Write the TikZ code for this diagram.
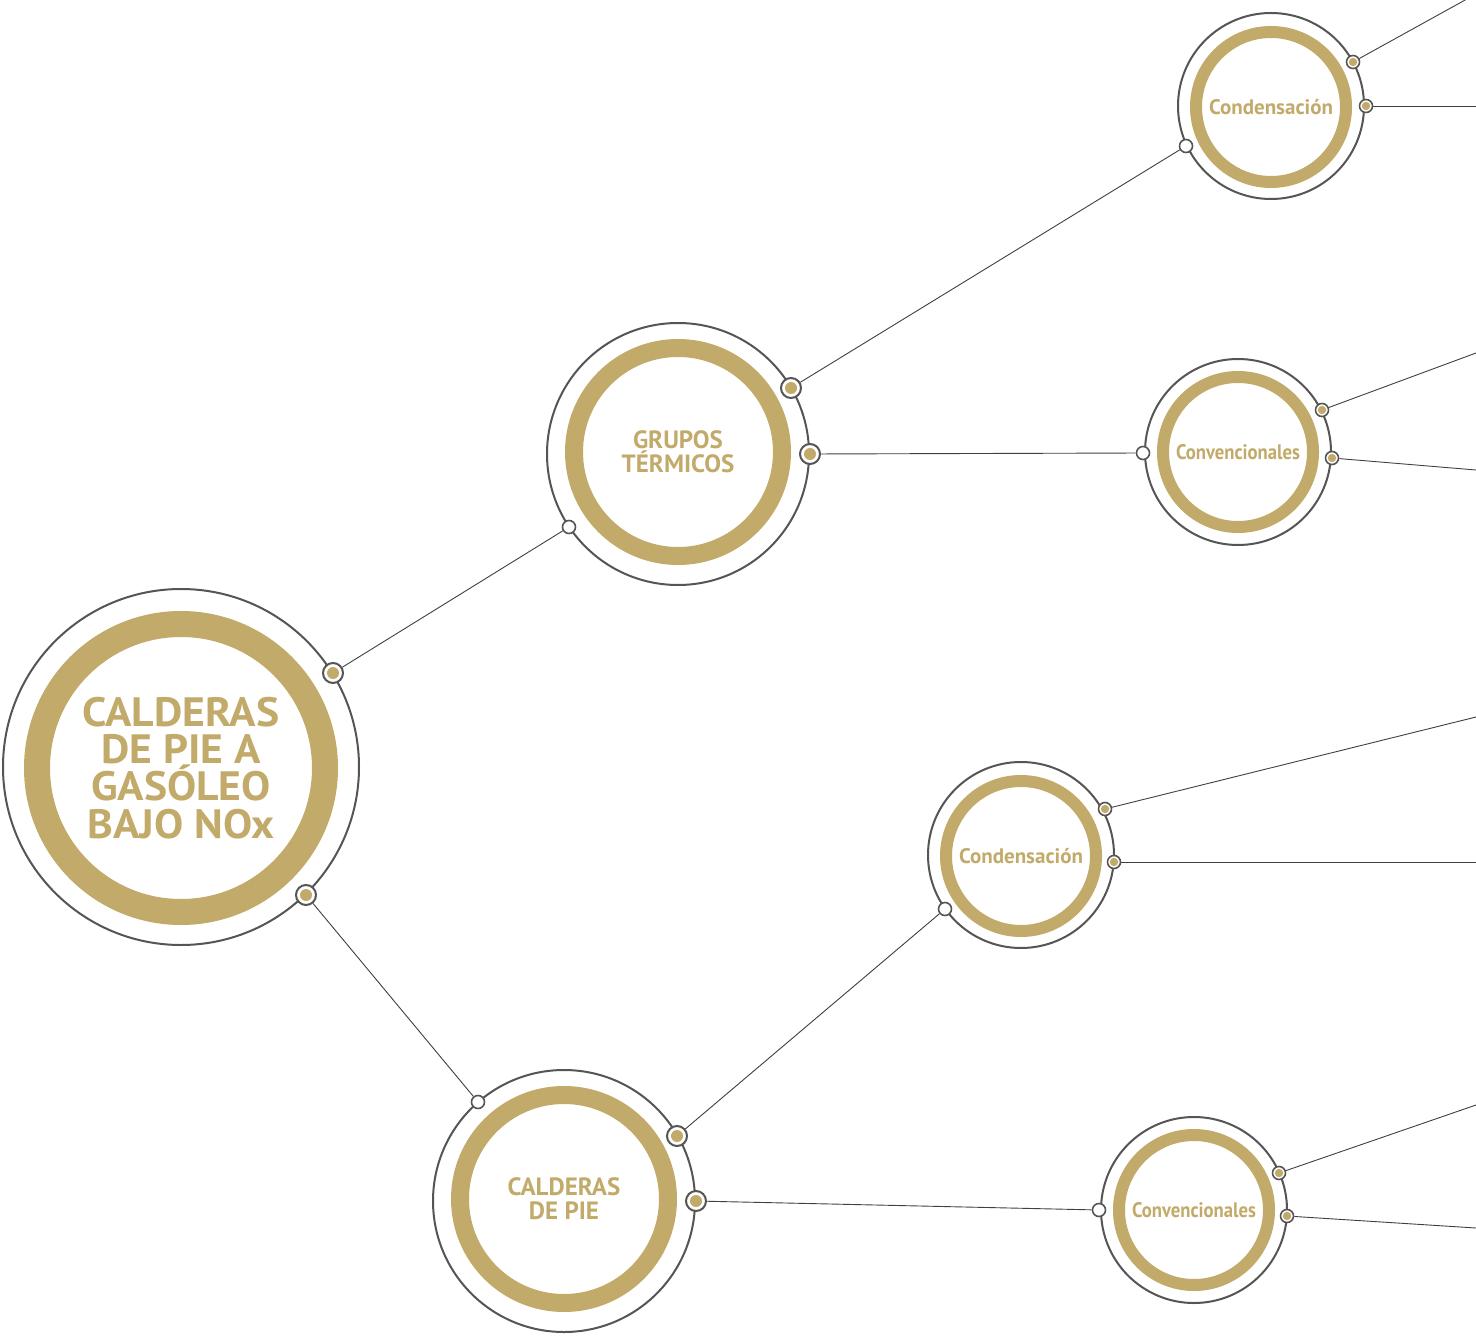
\documentclass[tikz,border=0pt]{standalone}
\usepackage{fontspec}
\setmainfont{PT Sans}
\newfontfamily\widefont[FakeStretch=1.065]{PT Sans}
\newfontfamily\narrowfont[FakeStretch=0.89]{PT Sans}
\definecolor{gold}{HTML}{C2AA6A}
\definecolor{ringgray}{HTML}{555555}
\definecolor{linegray}{HTML}{404040}
\begin{document}
\begin{tikzpicture}[x=0.5pt,y=-0.5pt,
  outerc/.style={circle,draw=ringgray,line width=1pt,fill=white,inner sep=0pt},
  goldc/.style={circle,draw=gold,inner sep=0pt,text=gold,font=\bfseries,align=center},
  bigdot/.style={circle,draw=ringgray,line width=1pt,fill=white,inner sep=0pt,minimum size=10pt,
    path picture={\fill[gold] (path picture bounding box.center) circle (3pt);}},
  smalldot/.style={circle,draw=ringgray,line width=0.8pt,fill=white,inner sep=0pt,minimum size=6.5pt,
    path picture={\fill[gold] (path picture bounding box.center) circle (2.1pt);}},
  opendot/.style={circle,draw=ringgray,line width=0.8pt,fill=white,inner sep=0pt,minimum size=6.5pt},
  conn/.style={draw=linegray,line width=0.45pt}]
\useasboundingbox[fill=white] (0,0) rectangle (1476,1336);

% ---- circles ----
\node[outerc,minimum size=178pt] (main) at (181,767) {};
\node[goldc,minimum size=144pt,line width=13pt,font=\widefont\bfseries\fontsize{20.5}{18.6}\selectfont] (mainin) at (181,768) {CALDERAS\\DE PIE A\\GASÓLEO\\BAJO NOx};

\node[outerc,minimum size=131pt] (grp) at (678,454) {};
\node[goldc,minimum size=104pt,line width=9pt,font=\bfseries\fontsize{12.5}{12}\selectfont] (grpin) at (678,452) {GRUPOS\\TÉRMICOS};

\node[outerc,minimum size=131pt] (cal) at (564,1201) {};
\node[goldc,minimum size=104pt,line width=9pt,font=\bfseries\fontsize{12.5}{12}\selectfont] (calin) at (564,1199) {CALDERAS\\DE PIE};

\node[outerc,minimum size=93pt] (cond1) at (1271,106) {};
\node[goldc,minimum size=75pt,line width=6pt,font=\bfseries\fontsize{10.5}{12}\selectfont] (cond1in) at (1271,107) {Condensación};

\node[outerc,minimum size=93pt] (conv1) at (1238,452) {};
\node[goldc,minimum size=75pt,line width=6pt,font=\narrowfont\bfseries\fontsize{10.5}{12}\selectfont] (conv1in) at (1238,452) {Convencionales};

\node[outerc,minimum size=93pt] (cond2) at (1021,855) {};
\node[goldc,minimum size=75pt,line width=6pt,font=\bfseries\fontsize{10.5}{12}\selectfont] (cond2in) at (1021,856) {Condensación};

\node[outerc,minimum size=93pt] (conv2) at (1194,1210) {};
\node[goldc,minimum size=75pt,line width=6pt,font=\narrowfont\bfseries\fontsize{10.5}{12}\selectfont] (conv2in) at (1194,1210) {Convencionales};

% ---- dots ----
\node[bigdot] (m1) at (333,673) {};
\node[bigdot] (m2) at (306,895) {};
\node[opendot] (gw) at (569,527) {};
\node[bigdot] (g1) at (791,388) {};
\node[bigdot] (g2) at (810,454) {};
\node[opendot] (cw) at (478,1102) {};
\node[bigdot] (c1) at (677,1136) {};
\node[bigdot] (c2) at (696,1201) {};

\node[opendot] (k1w) at (1186,146) {};
\node[smalldot] (k1a) at (1353,62) {};
\node[smalldot] (k1b) at (1366,106) {};

\node[opendot] (v1w) at (1143,453) {};
\node[smalldot] (v1a) at (1322,410) {};
\node[smalldot] (v1b) at (1332,458) {};

\node[opendot] (k2w) at (945,909) {};
\node[smalldot] (k2a) at (1105,809) {};
\node[smalldot] (k2b) at (1114,862) {};

\node[opendot] (v2w) at (1099,1210) {};
\node[smalldot] (v2a) at (1279,1173) {};
\node[smalldot] (v2b) at (1287,1216) {};

% ---- free ends ----
\coordinate (e1) at (1476,-6);
\coordinate (e2) at (1476,106);
\coordinate (e3) at (1476,353);
\coordinate (e4) at (1476,470);
\coordinate (e5) at (1476,717);
\coordinate (e6) at (1476,862);
\coordinate (e7) at (1476,1105);
\coordinate (e8) at (1476,1228);

% ---- connectors ----
\path[conn] (m1) -- (gw);
\path[conn] (m2) -- (cw);
\path[conn] (g1) -- (k1w);
\path[conn] (g2) -- (v1w);
\path[conn] (c1) -- (k2w);
\path[conn] (c2) -- (v2w);
\path[conn] (k1a) -- (e1);
\path[conn] (k1b) -- (e2);
\path[conn] (v1a) -- (e3);
\path[conn] (v1b) -- (e4);
\path[conn] (k2a) -- (e5);
\path[conn] (k2b) -- (e6);
\path[conn] (v2a) -- (e7);
\path[conn] (v2b) -- (e8);
\end{tikzpicture}
\end{document}
